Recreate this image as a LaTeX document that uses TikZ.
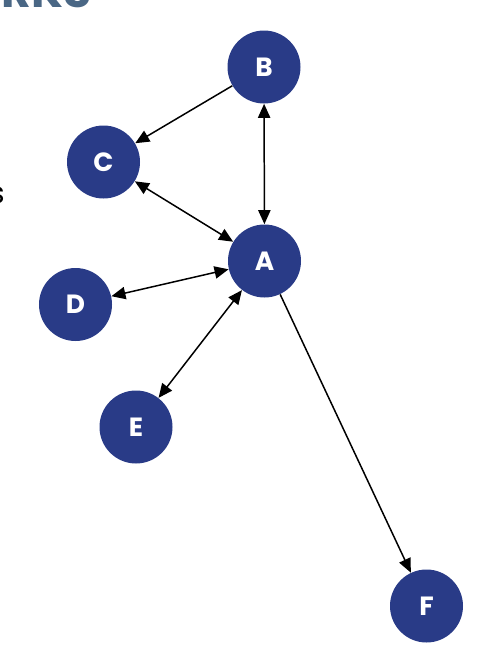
\documentclass[tikz,border=0pt]{standalone}
\usepackage{fontspec}
\setmainfont{Poppins}
\definecolor{net_blue}{RGB}{41, 59, 135}
\definecolor{net_slate}{RGB}{74, 103, 133}
\usetikzlibrary{arrows.meta}

\begin{document}
\begin{tikzpicture}[font=\bfseries\fontsize{15}{15}\selectfont,
            vtx/.style={circle, fill=net_blue, text=white, inner sep=0pt,
                        minimum size=1.46cm},
            arr/.style={-{Triangle[length=8pt, width=7pt]}, line width=0.85pt},
            biarr/.style={{Triangle[length=8pt, width=7pt]}-{Triangle[length=8pt, width=7pt]}, line width=0.85pt}]
            \useasboundingbox (0,0) rectangle (9.88,-13.24);
            % cut-off slide text
            \node[anchor=base east, text=net_slate, inner sep=0pt,
              font=\bfseries\fontsize{26}{26}\selectfont] (title)
              at (1.84,-0.15) {ORKS};
            \node[anchor=base east, inner sep=0pt,
              font=\fontsize{17}{17}\selectfont] (side)
              at (0.1,-4.06) {s};
            \node[vtx] (b) at (5.28,-1.34) {B};
            \node[vtx] (c) at (2.07,-3.24) {C};
            \node[vtx] (a) at (5.29,-5.22) {A};
            \node[vtx] (d) at (1.51,-6.09) {D};
            \node[vtx] (e) at (2.72,-8.54) {E};
            \node[vtx] (f) at (8.53,-12.12) {F};
            \draw[arr] (b) -- (c);
            \draw[biarr] (b) -- (a);
            \draw[biarr] (c) -- (a);
            \draw[biarr] (d) -- (a);
            \draw[biarr] (e) -- (a);
            \draw[arr] (a) -- (f);
          \end{tikzpicture}
\end{document}
